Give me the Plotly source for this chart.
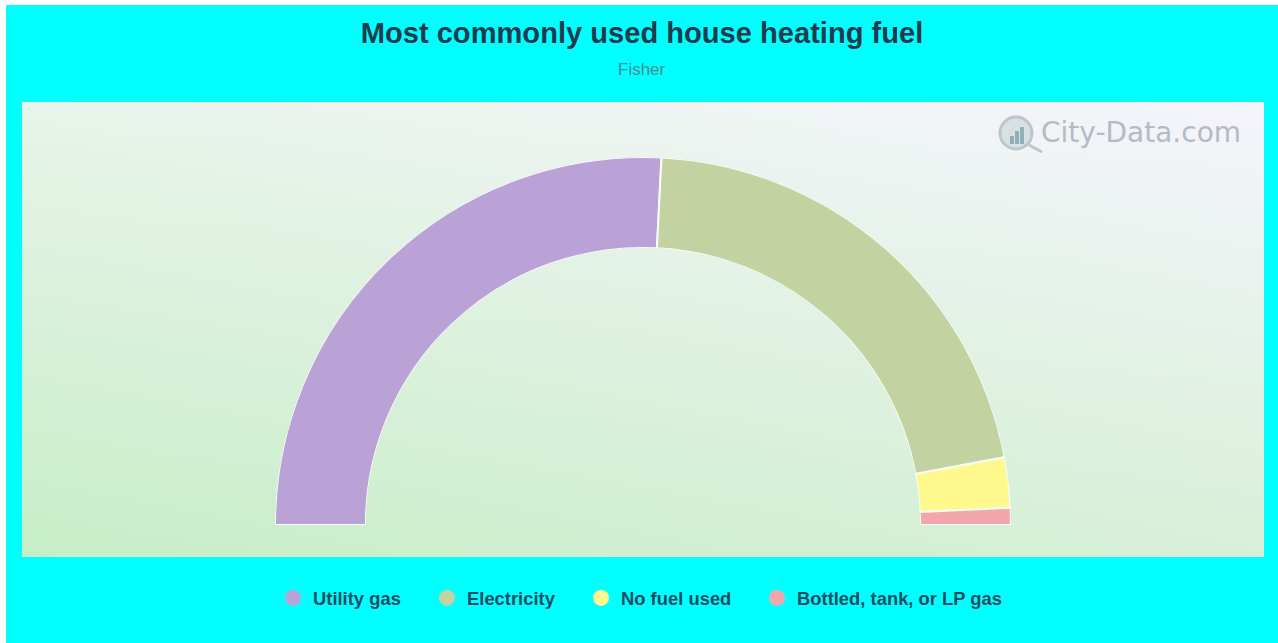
import base64, struct, zlib
import numpy as np
import plotly.graph_objects as go

W, H = 1278, 643

title_text = "Most commonly used house heating fuel"
subtitle_text = "Fisher"
categories = ["Utility gas", "Electricity", "No fuel used", "Bottled, tank, or LP gas"]
values = [51.6, 42.5, 4.4, 1.5]
colors = ["#BBA2D6", "#C2D3A1", "#FFF88D", "#F3A7AB"]
legend_x_px = [273, 427, 581, 757]
FONT = "Liberation Sans"


def px(x):
    return x / W


def py(y):
    return 1 - y / H


def gradient_png(w, h, tl, tr, bl, br):
    u = np.linspace(0, 1, w)[None, :, None]
    v = np.linspace(0, 1, h)[:, None, None]
    tl, tr, bl, br = [np.array(c, float)[None, None, :] for c in (tl, tr, bl, br)]
    img = (1 - v) * ((1 - u) * tl + u * tr) + v * ((1 - u) * bl + u * br)
    img = np.round(img).astype(np.uint8)
    raw = b"".join(b"\x00" + row.tobytes() for row in img)

    def chunk(t, d):
        return struct.pack(">I", len(d)) + t + d + struct.pack(">I", zlib.crc32(t + d))

    png = b"\x89PNG\r\n\x1a\n" + chunk(b"IHDR", struct.pack(">IIBBBBB", w, h, 8, 2, 0, 0, 0))
    png += chunk(b"IDAT", zlib.compress(raw, 9)) + chunk(b"IEND", b"")
    return "data:image/png;base64," + base64.b64encode(png).decode()


total = sum(values)
widths = [v / total * 180 for v in values]
thetas = [sum(widths[:i]) + widths[i] / 2 for i in range(len(widths))]

fig = go.Figure()
fig.add_trace(go.Barpolar(
    r=[1] * len(values), theta=thetas, width=widths, text=categories,
    marker=dict(color=colors, line=dict(color="#F7FCF7", width=2)),
    showlegend=False, hoverinfo="text",
))

for i, (name, c) in enumerate(zip(categories, colors)):
    key = "legend" if i == 0 else f"legend{i + 1}"
    fig.add_trace(go.Scatterpolar(
        r=[None], theta=[None], mode="markers", name=name, legend=key,
        marker=dict(color=c, size=16, symbol="circle"), hoverinfo="skip",
    ))
    fig.update_layout({key: dict(
        x=px(legend_x_px[i]), y=py(598), xanchor="left", yanchor="middle",
        orientation="h", bgcolor="rgba(0,0,0,0)", borderwidth=0,
        font=dict(family=FONT, size=18.4, color="#1F4E63", weight=700),
    )})

fig.update_layout(
    width=W, height=H, margin=dict(l=0, r=0, t=0, b=0), autosize=False,
    paper_bgcolor="#00FFFF", plot_bgcolor="rgba(0,0,0,0)",
    font=dict(family=FONT),
    title=dict(
        text=title_text, x=px(642), xanchor="center", y=py(33), yanchor="middle",
        font=dict(family=FONT, size=29.1, color="#1F3B4D", weight=700),
    ),
    polar=dict(
        domain=dict(x=[px(275), px(1011)], y=[py(525), py(157)]),
        sector=[0, 180], hole=0.753, bgcolor="rgba(0,0,0,0)",
        radialaxis=dict(visible=False, range=[0, 1]),
        angularaxis=dict(visible=False, direction="clockwise", rotation=180, thetaunit="degrees"),
    ),
    shapes=[
        dict(type="rect", xref="paper", yref="paper", x0=0, x1=px(6), y0=0, y1=1,
             fillcolor="#FFFFFF", line_width=0, layer="below"),
        dict(type="rect", xref="paper", yref="paper", x0=0, x1=1, y0=py(5), y1=1,
             fillcolor="#FFFFFF", line_width=0, layer="below"),
        dict(type="circle", xref="paper", yref="paper", x0=px(1000), x1=px(1032), y0=py(149), y1=py(117),
             fillcolor="rgba(190,205,210,0.5)", line=dict(color="#BCC6CC", width=3)),
        dict(type="line", xref="paper", yref="paper", x0=px(1029), x1=px(1042), y0=py(145), y1=py(152),
             line=dict(color="#BCC6CC", width=3)),
        dict(type="rect", xref="paper", yref="paper", x0=px(1010), x1=px(1014), y0=py(144), y1=py(136),
             fillcolor="#8FB0B5", line_width=0),
        dict(type="rect", xref="paper", yref="paper", x0=px(1015), x1=px(1019), y0=py(144), y1=py(131),
             fillcolor="#8FB0B5", line_width=0),
        dict(type="rect", xref="paper", yref="paper", x0=px(1020), x1=px(1024), y0=py(144), y1=py(127),
             fillcolor="#8FB0B5", line_width=0),
    ],
    images=[dict(
        source=gradient_png(1242, 455, (232, 244, 234), (245, 244, 252), (198, 238, 198), (216, 240, 216)),
        xref="paper", yref="paper", x=px(22), y=py(102), sizex=px(1242), sizey=455 / H,
        xanchor="left", yanchor="top", sizing="stretch", layer="below",
    )],
    annotations=[
        dict(
            text="City-Data.com", xref="paper", yref="paper", x=px(1243), y=py(133),
            xanchor="right", yanchor="middle", showarrow=False,
            font=dict(family="DejaVu Sans", size=28, color="#B4BBC4"),
        ),
        dict(
            text=subtitle_text, xref="paper", yref="paper", x=px(642), y=py(69),
            xanchor="center", yanchor="middle", showarrow=False,
            font=dict(family=FONT, size=17, color="#4F8A94"),
        ),
    ],
)

fig.write_html(
    "out.html", config=dict(displayModeBar=False),
    post_script="document.body.style.margin='0';document.body.style.overflow='hidden';",
)
